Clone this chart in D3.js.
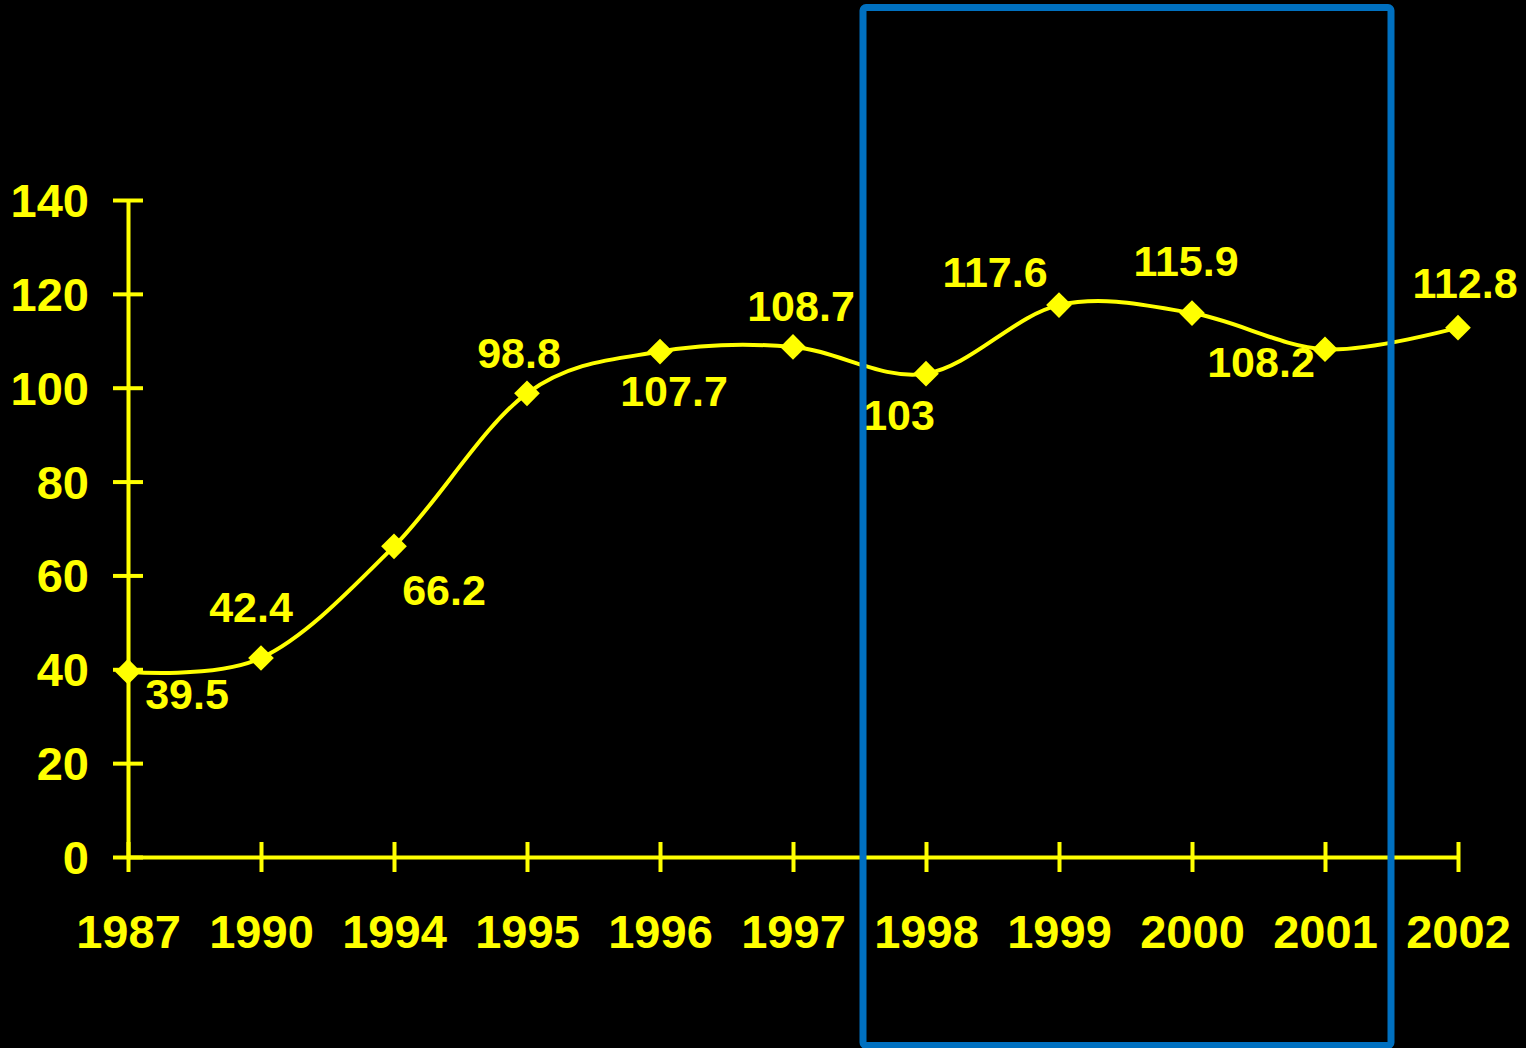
<!DOCTYPE html>
<html>
<head>
<meta charset="utf-8">
<script src="https://cdn.jsdelivr.net/npm/d3@7"></script>
<style>
  html, body { margin: 0; padding: 0; background: #000; }
  svg { display: block; }
  text { font-family: "Liberation Sans", Arial, sans-serif; font-weight: bold; fill: #ffff00; }
</style>
</head>
<body>
<svg></svg>
<script>
// chart data
const years = ['1987', '1990', '1994', '1995', '1996', '1997', '1998', '1999', '2000', '2001', '2002'];
const values = [39.5, 42.4, 66.2, 98.8, 107.7, 108.7, 103, 117.6, 115.9, 108.2, 112.8];
const yTicks = [0, 20, 40, 60, 80, 100, 120, 140];

// where each value label sits relative to its point (dx to centre, dy to baseline)
const labelOffsets = [
  [59, 37], [-10, -36], [50, 59], [-8, -25], [14, 54], [8, -26],
  [-27, 56], [-64, -18], [-6, -37], [-64, 28], [7, -30]
];

const width = 1526;
const height = 1048;
const yellow = '#ffff00';

const svg = d3.select('svg')
  .attr('width', width)
  .attr('height', height);

svg.append('rect')
  .attr('width', width)
  .attr('height', height)
  .attr('fill', '#000');

const x = d3.scalePoint().domain(years).range([128, 1458]);
const y = d3.scaleLinear().domain([0, 140]).range([857, 200]);

// y axis, ticks crossing the axis line
const yAxis = svg.append('g')
  .attr('transform', `translate(${x(years[0])},0)`)
  .call(d3.axisLeft(y).tickValues(yTicks).tickSizeOuter(0).tickSizeInner(15).tickPadding(0));
yAxis.select('.domain').attr('stroke', yellow).attr('stroke-width', 4);
yAxis.selectAll('.tick line').attr('x1', -15).attr('x2', 15)
  .attr('stroke', yellow).attr('stroke-width', 4);
yAxis.selectAll('.tick text')
  .attr('x', -39).attr('dy', '0.35em')
  .style('font-size', '47px').attr('fill', yellow);

// x axis
const xAxis = svg.append('g')
  .attr('transform', `translate(0,${y(0)})`)
  .call(d3.axisBottom(x).tickSizeOuter(0).tickSizeInner(15).tickPadding(0));
xAxis.select('.domain').attr('stroke', yellow).attr('stroke-width', 4);
xAxis.selectAll('.tick line').attr('y1', -15).attr('y2', 15)
  .attr('stroke', yellow).attr('stroke-width', 4);
xAxis.selectAll('.tick text')
  .attr('y', 91).attr('dy', 0)
  .style('font-size', '47px').attr('fill', yellow);

// smoothed line
const line = d3.line()
  .x((d, i) => x(years[i]))
  .y((d) => y(d))
  .curve(d3.curveCatmullRom.alpha(0));

svg.append('path')
  .datum(values)
  .attr('d', line)
  .attr('fill', 'none')
  .attr('stroke', yellow)
  .attr('stroke-width', 4);

// diamond markers
const diamond = d3.symbol(d3.symbolSquare, 330);
svg.append('g').selectAll('path')
  .data(values)
  .join('path')
  .attr('d', diamond)
  .attr('transform', (d, i) => `translate(${x(years[i])},${y(d)}) rotate(45)`)
  .attr('fill', yellow);

// value labels
svg.append('g').selectAll('text')
  .data(values)
  .join('text')
  .attr('x', (d, i) => x(years[i]) + labelOffsets[i][0])
  .attr('y', (d, i) => y(d) + labelOffsets[i][1])
  .attr('text-anchor', 'middle')
  .style('font-size', '43px')
  .text((d) => d);

// highlight box over 1998-2001
svg.append('rect')
  .attr('x', 863)
  .attr('y', 7.5)
  .attr('width', 528)
  .attr('height', 1038)
  .attr('rx', 3)
  .attr('fill', 'none')
  .attr('stroke', '#0070c0')
  .attr('stroke-width', 7);
</script>
</body>
</html>
